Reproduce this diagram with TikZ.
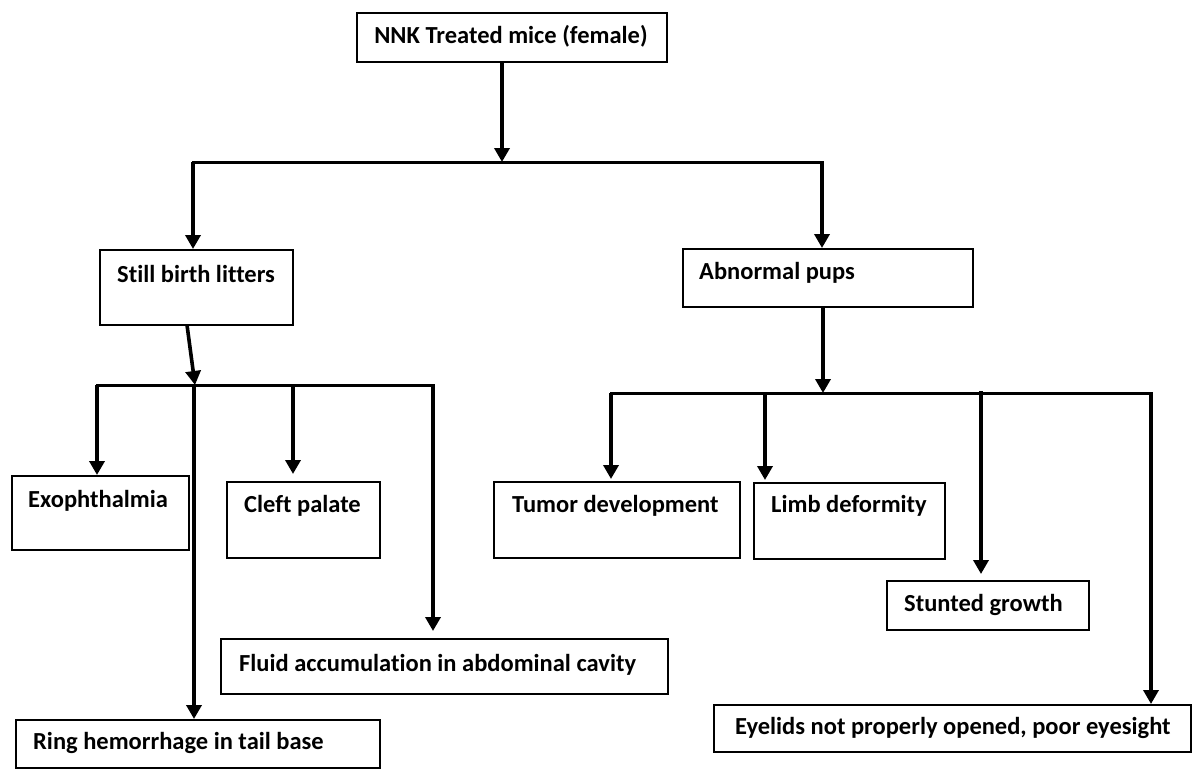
\documentclass[tikz,border=0pt]{standalone}
\usepackage{fontspec}
\setmainfont{Carlito}[Ligatures=NoCommon]
\usetikzlibrary{arrows.meta,calc}
\tikzset{
  box/.style={draw=black, line width=1.8pt, rectangle, inner sep=0pt, anchor=north west},
  lbl/.style={anchor=west, inner sep=0pt, font=\fontsize{24.5}{29}\selectfont\bfseries},
  arr/.style={line width=3.6pt, -{Triangle[width=15pt,length=14pt]}},
  bar/.style={line width=3pt, line cap=rect},
}
\begin{document}
\begin{tikzpicture}[x=1pt,y=-1pt]
\useasboundingbox (0,0) rectangle (1192,771);
% boxes
\node[box, minimum width=310pt, minimum height=49pt] (top) at (356,12) {};
\node[lbl, anchor=center] (topt) at (511,36) {NNK Treated mice (female)};
\node[box, minimum width=193pt, minimum height=75pt] (sb) at (99,249) {};
\node[lbl] (sbt) at (117,274) {Still birth litters};
\node[box, minimum width=290pt, minimum height=58pt] (ap) at (682,248) {};
\node[lbl] (apt) at (699,273) {Abnormal pups};
\node[box, minimum width=177pt, minimum height=74pt] (exo) at (11,475) {};
\node[lbl] (exot) at (28,501) {Exophthalmia};
\node[box, minimum width=153pt, minimum height=76pt] (cleft) at (226,481) {};
\node[lbl] (cleftt) at (244,506) {Cleft palate};
\node[box, minimum width=447pt, minimum height=55pt] (fluid) at (220,638) {};
\node[lbl] (fluidt) at (239,665) {Fluid accumulation in abdominal cavity};
\node[box, minimum width=364pt, minimum height=48pt] (ring) at (15,719) {};
\node[lbl] (ringt) at (33,743) {Ring hemorrhage in tail base};
\node[box, minimum width=246pt, minimum height=76pt] (tumor) at (493,481) {};
\node[lbl] (tumort) at (512,506) {Tumor development};
\node[box, minimum width=191pt, minimum height=76pt] (limb) at (753,482) {};
\node[lbl] (limbt) at (771,506) {Limb deformity};
\node[box, minimum width=202pt, minimum height=49pt] (stunt) at (886,580) {};
\node[lbl] (stuntt) at (904,605) {Stunted growth};
\node[box, minimum width=477pt, minimum height=47pt] (eye) at (713,704) {};
\node[lbl] (eyet) at (735,728) {Eyelids not properly opened, poor eyesight};
% junction coordinates
\coordinate (j1) at (502,162);
\coordinate (b1l) at (193,162);
\coordinate (b1r) at (822,162);
\coordinate (sbout) at (187,325);
\coordinate (j2) at (195,385);
\coordinate (b2l) at (97,385);
\coordinate (b2r) at (433,385);
\coordinate (apout) at (823,306);
\coordinate (j3) at (823,393);
\coordinate (b3l) at (611,393);
\coordinate (b3r) at (1151,393);
% top level
\draw[arr] (top.south -| j1) -- (j1);
\draw[bar] (b1l) -- (b1r);
\draw[arr] (b1l) -- (b1l |- sb.north);
\draw[arr] (b1r) -- (b1r |- ap.north);
% still birth branch
\draw[arr] (sbout) -- (j2);
\draw[bar] (b2l) -- (b2r);
\draw[arr] (b2l) -- (b2l |- exo.north);
\draw[arr] (j2 -| 194,0) -- (ring.north -| 194,0);
\draw[arr, shorten >=7pt] (j2 -| 293,0) -- (cleft.north -| 293,0);
\draw[arr, shorten >=7pt] (b2r) -- (b2r |- fluid.north);
% abnormal pups branch
\draw[arr] (apout) -- (j3);
\draw[bar] (b3l) -- (b3r);
\draw[arr, shorten >=2pt] (b3l) -- (b3l |- tumor.north);
\draw[arr, shorten >=2pt] (j3 -| 765,0) -- (limb.north -| 765,0);
\draw[arr, shorten >=6pt] (981,391) -- (stunt.north -| 981,0);
\draw[arr] (b3r) -- (b3r |- eye.north);
\end{tikzpicture}
\end{document}
